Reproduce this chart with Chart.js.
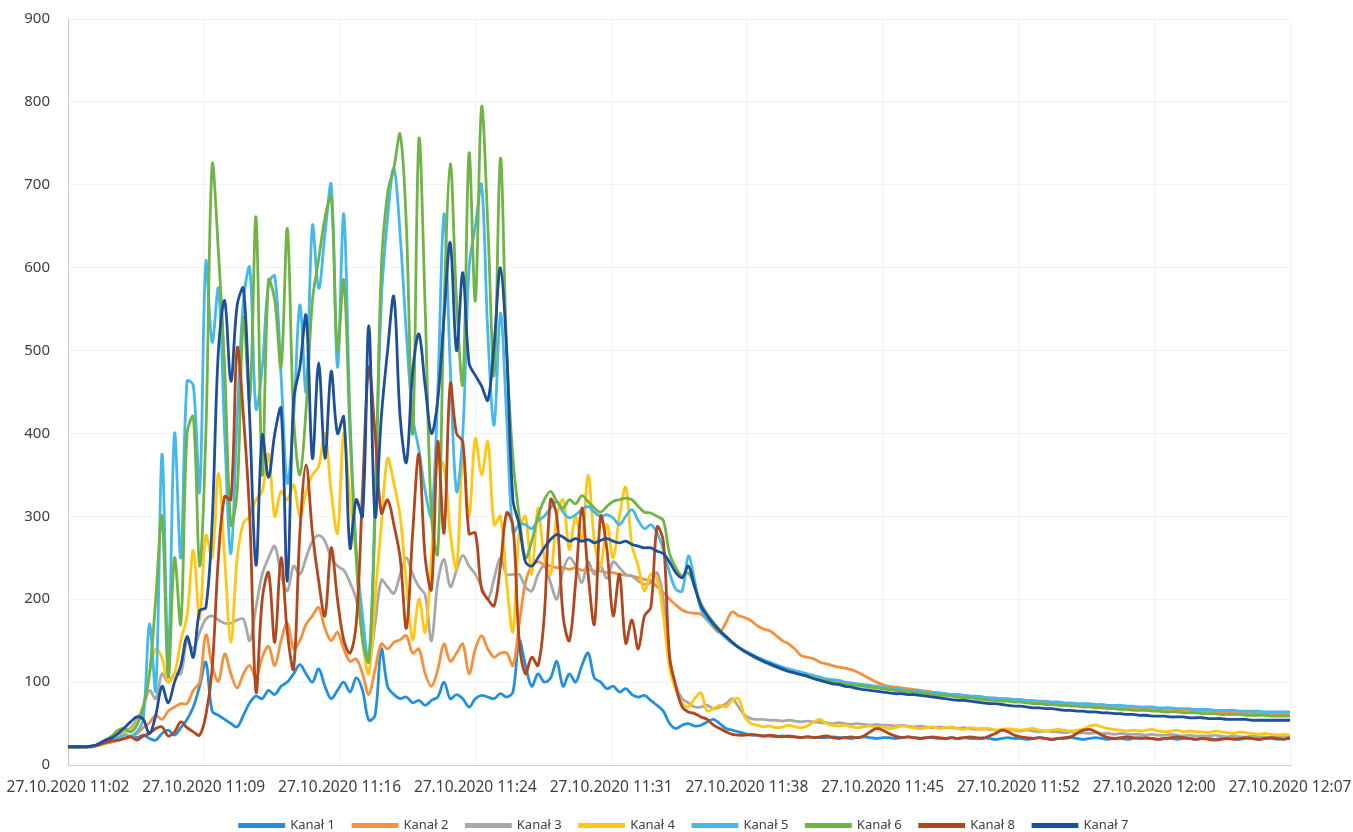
<!DOCTYPE html>
<html>
<head>
<meta charset="utf-8">
<title>Kanały</title>
<script src="https://cdn.jsdelivr.net/npm/chart.js@4.4.1/dist/chart.umd.min.js"></script>
<style>
    html, body { margin: 0; padding: 0; background: #ffffff; }
    #wrap { width: 1353px; height: 832px; position: relative; }
</style>
</head>
<body>
<div id="wrap"><canvas id="kanaly-chart"></canvas></div>
<script>
// Tick labels on the time axis (every ~7 minutes)
const tickLabels = [
    '27.10.2020 11:02', '27.10.2020 11:09', '27.10.2020 11:16', '27.10.2020 11:24',
    '27.10.2020 11:31', '27.10.2020 11:38', '27.10.2020 11:45', '27.10.2020 11:52',
    '27.10.2020 12:00', '27.10.2020 12:07'
];

// Series names in legend order
const seriesNames = ['Kanał 1', 'Kanał 2', 'Kanał 3', 'Kanał 4', 'Kanał 5', 'Kanał 6', 'Kanał 8', 'Kanał 7'];

// Samples every 20 s (196 points per channel)
const kanal1 = [
    22,22,22,22,22,24,27,28,30,32, 35,33,36,32,30,38,42,36,45,55,
    70,95,124,65,60,55,50,46,60,75, 83,80,90,85,95,100,110,121,110,100,
    116,95,80,90,100,88,105,90,54,60, 140,95,85,80,82,75,78,72,78,82,
    100,80,85,80,70,80,84,82,80,86, 82,88,150,120,95,110,100,105,125,95,
    110,100,120,135,105,100,92,95,88,92, 85,82,84,78,72,65,50,44,48,50,
    47,48,52,55,50,44,42,40,38,36, 36,35,35,34,35,34,34,33,34,33,
    33,33,34,33,33,32,33,34,33,32, 33,33,32,33,34,33,32,33,33,32,
    32,33,32,33,32,32,33,32,31,32, 33,32,32,31,32,33,32,31,32,32,
    33,32,31,32,33,32,31,32,32,31, 32,33,32,32,31,32,32,31,32,32,
    31,32,32,31,32,33,32,31,32,32, 31,32,32,31,32,32
];
const kanal2 = [
    22,22,22,22,22,24,26,28,30,32, 34,38,45,51,60,55,65,70,74,74,
    90,100,157,120,101,134,110,93,110,120, 105,130,143,120,150,171,140,150,170,180,
    190,165,150,160,140,125,128,110,85,115, 146,140,148,151,156,135,140,110,95,115,
    146,125,135,146,110,140,156,140,130,135, 135,120,170,220,240,245,242,240,238,238,
    236,238,235,236,234,234,232,232,230,229, 228,226,224,222,215,208,200,193,187,184,
    183,182,175,166,160,172,185,180,178,174, 168,164,162,156,150,146,140,132,130,128,
    124,122,120,118,117,115,112,108,104,100, 97,95,94,93,92,91,90,89,88,87,
    86,85,85,84,83,82,82,81,80,80, 79,78,78,77,76,76,75,75,74,74,
    73,73,72,72,71,71,70,70,70,69, 69,68,68,68,67,67,67,66,66,66,
    65,65,65,64,64,64,63,63,63,63, 62,62,62,62,61,61
];
const kanal3 = [
    22,22,22,22,23,25,28,32,36,40, 45,55,70,90,80,110,100,110,110,150,
    140,160,176,180,175,171,171,175,176,150, 190,230,250,264,230,210,240,230,250,270,
    277,270,250,240,235,220,200,160,125,170, 223,215,207,230,250,230,215,205,150,220,
    248,215,235,253,240,230,215,200,225,250, 230,230,230,215,210,230,240,220,200,235,
    250,240,220,245,230,240,225,245,238,230, 228,222,218,220,232,200,130,95,80,75,
    70,70,72,68,70,74,80,70,60,56, 55,55,54,54,53,54,53,52,53,52,
    51,51,50,51,50,49,50,49,48,49, 48,48,47,48,47,46,47,46,45,46,
    45,45,44,45,44,43,44,43,42,42, 43,42,41,42,41,40,41,40,40,39,
    40,39,39,38,39,38,38,37,38,37, 37,37,36,37,36,36,37,36,35,36,
    35,35,35,36,35,34,35,34,34,35, 34,34,33,34,33,34
];
const kanal4 = [
    22,22,22,22,23,25,28,32,34,38, 42,50,70,110,140,129,100,110,150,180,
    259,176,277,250,352,250,148,250,292,300, 320,330,375,300,330,320,338,300,330,350,
    360,400,330,280,400,320,250,150,110,200, 290,370,340,300,220,151,200,160,250,370,
    360,280,237,370,300,394,350,390,290,300, 220,161,280,300,230,310,250,230,300,320,
    260,300,270,350,270,240,290,250,300,335, 265,240,210,230,225,180,118,90,75,70,
    80,87,65,68,72,70,78,80,58,50, 48,46,47,45,46,48,46,45,47,52,
    55,50,48,47,48,46,45,46,47,45, 46,44,45,47,46,45,44,45,46,44,
    45,46,44,43,45,44,43,44,42,43, 44,43,42,43,44,42,41,42,43,42,
    41,42,43,47,48,46,44,43,42,41, 42,41,42,43,41,40,41,42,40,41,
    40,40,39,41,40,39,38,40,39,38, 37,38,37,36,37,36
];
const kanal5 = [
    22,22,22,22,23,25,28,30,33,36, 35,40,55,170,90,375,130,400,250,463,
    458,330,607,510,575,400,255,420,560,600, 430,480,581,590,470,340,420,555,450,651,
    575,640,700,480,665,420,260,180,125,320, 560,660,720,640,520,420,380,330,300,450,
    665,480,330,400,600,650,700,520,410,545, 420,280,290,290,285,295,300,310,318,305,
    298,302,308,312,305,300,302,298,290,300, 308,295,285,290,280,260,232,212,210,252,
    222,188,176,168,160,153,147,142,138,134, 130,127,124,121,118,116,114,112,110,108,
    106,104,103,102,100,99,98,97,96,95, 94,93,92,91,90,90,89,88,87,87,
    86,85,85,84,83,83,82,81,81,80, 80,79,79,78,78,77,77,76,76,75,
    75,74,74,74,73,73,72,72,72,71, 71,70,70,70,69,69,69,68,68,68,
    67,67,67,66,66,66,66,65,65,65, 65,64,64,64,64,64
];
const kanal6 = [
    22,22,22,22,23,26,30,35,42,44, 40,48,70,110,200,300,106,250,170,400,
    420,240,400,724,620,480,290,330,540,440, 661,350,585,560,480,647,420,350,430,560,
    610,660,686,500,585,400,250,150,125,300, 600,690,720,761,650,400,755,550,300,255,
    550,725,560,460,738,560,794,650,470,732, 500,370,300,250,270,300,320,330,318,310,
    320,315,325,318,310,305,312,318,320,322, 320,312,305,304,300,295,255,238,228,232,
    215,195,182,172,163,155,148,142,137,132, 128,125,121,118,115,113,111,109,107,105,
    103,102,100,99,98,97,96,95,94,93, 92,91,90,89,88,88,87,86,85,84,
    84,83,82,81,81,80,79,78,78,77, 77,76,76,75,74,74,73,73,72,72,
    71,71,70,70,69,69,68,68,67,67, 66,66,66,65,65,64,64,64,63,63,
    63,62,62,62,61,61,61,61,60,60, 60,60,59,59,59,59
];
const kanal8 = [
    22,22,22,22,23,25,27,29,30,32, 34,30,35,38,44,46,35,40,52,45,
    40,36,60,116,250,324,320,503,420,300, 88,200,232,148,250,160,116,280,362,280,
    222,180,262,200,151,135,171,330,480,400, 304,320,290,250,165,280,375,250,212,390,
    280,460,400,390,279,280,212,200,192,240, 304,289,150,110,130,120,180,320,300,180,
    150,220,310,230,170,300,260,180,230,147, 175,140,180,190,287,270,130,95,70,64,
    62,58,55,48,44,40,37,36,36,37, 36,35,36,35,34,35,34,33,34,33,
    34,35,33,32,33,34,33,35,40,44, 42,38,35,33,34,33,32,33,34,33,
    32,33,32,33,34,33,32,35,38,42, 40,36,34,33,32,33,32,31,32,33,
    34,38,42,43,40,36,33,32,33,34, 33,32,33,32,31,32,33,34,33,32,
    31,32,31,30,31,32,31,32,33,32, 31,32,33,32,31,33
];
const kanal7 = [
    22,22,22,22,23,26,30,33,38,45, 52,58,55,38,60,95,75,100,120,155,
    130,186,190,292,500,560,463,555,575,417, 241,398,347,400,430,222,440,480,542,370,
    485,370,475,400,420,262,320,300,530,300, 420,500,565,420,365,475,520,457,400,440,
    540,630,500,594,485,470,457,440,508,600, 500,320,290,245,240,250,262,272,278,275,
    270,273,270,272,268,271,273,270,268,270, 266,264,262,262,258,255,245,232,226,240,
    215,192,180,170,162,155,148,142,137,133, 129,125,122,119,116,113,111,109,107,104,
    102,100,98,97,95,94,92,91,90,89, 88,87,86,86,85,85,84,83,82,81,
    80,79,78,78,77,76,75,74,74,73, 72,71,71,70,69,69,68,68,67,66,
    66,65,65,64,64,63,63,62,62,61, 61,60,60,59,59,59,58,58,58,57,
    57,57,56,56,56,55,55,55,55,54, 54,54,54,54,54,54
];

const seriesValues = [kanal1, kanal2, kanal3, kanal4, kanal5, kanal6, kanal8, kanal7];
const seriesColors = ['#2290dc', '#f5913c', '#a8a8a8', '#ffc612', '#45b8ec', '#6fb444', '#b2461d', '#1d4f9a'];

document.addEventListener('DOMContentLoaded', function () {
    const ctx = document.getElementById('kanaly-chart').getContext('2d');
    const lastIndex = kanal1.length - 1;

    Chart.defaults.font.family = "'Noto Sans', 'DejaVu Sans', sans-serif";
    Chart.defaults.color = '#404040';

    const datasets = seriesNames.map(function (name, k) {
        return {
            label: name,
            data: seriesValues[k].map(function (v, i) { return { x: i, y: v }; }),
            borderColor: seriesColors[k],
            backgroundColor: seriesColors[k],
            borderWidth: 2.8,
            pointRadius: 0,
            tension: 0.35,
            // Excel draws later series on top
            order: seriesNames.length - k
        };
    });

    // nudge the legend a bit right, like in the original
    const legendShift = {
        id: 'legendShift',
        afterLayout: function (chart) {
            if (chart.legend) {
                chart.legend.left += 34;
                chart.legend.right += 34;
            }
        }
    };

    new Chart(ctx, {
        type: 'line',
        data: { datasets: datasets },
        options: {
            responsive: true,
            maintainAspectRatio: false,
            animation: false,
            layout: { padding: { left: 10, right: 63, top: 19, bottom: 0 } },
            plugins: {
                tooltip: { enabled: false },
                legend: {
                    position: 'bottom',
                    maxHeight: 31,
                    labels: {
                        boxWidth: 44,
                        boxHeight: 2,
                        padding: 18,
                        font: { size: 13 },
                        sort: function (a, b) { return a.datasetIndex - b.datasetIndex; }
                    }
                }
            },
            scales: {
                x: {
                    type: 'linear',
                    min: 0,
                    max: lastIndex,
                    afterBuildTicks: function (axis) {
                        axis.ticks = tickLabels.map(function (_, k) {
                            return { value: k * lastIndex / (tickLabels.length - 1) };
                        });
                    },
                    afterFit: function (axis) {
                        axis.height = 36;
                        axis.paddingLeft = 0;
                        axis.paddingRight = 0;
                    },
                    ticks: {
                        autoSkip: false,
                        maxRotation: 0,
                        padding: 13,
                        font: { size: 15.5 },
                        callback: function (value, index) { return tickLabels[index]; }
                    },
                    grid: { color: 'rgba(0,0,0,0.05)', drawTicks: false },
                    border: { color: '#cfcfcf', width: 1 }
                },
                y: {
                    min: 0,
                    max: 900,
                    afterFit: function (axis) {
                        axis.width = 58;
                        axis.paddingTop = 0;
                        axis.paddingBottom = 0;
                    },
                    ticks: { stepSize: 100, padding: 18, font: { size: 15 } },
                    grid: { color: 'rgba(0,0,0,0.05)', drawTicks: false },
                    border: { color: '#c8c8c8', width: 1 }
                }
            }
        },
        plugins: [legendShift]
    });
});
</script>
</body>
</html>
